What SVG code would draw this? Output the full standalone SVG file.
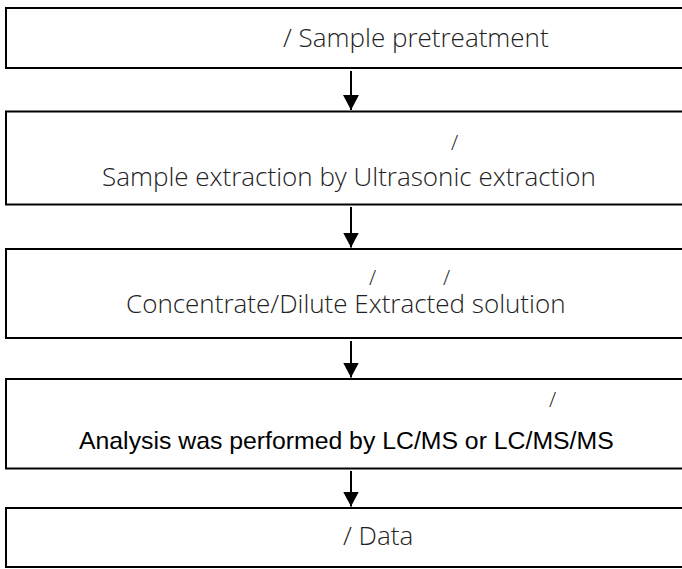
<svg xmlns="http://www.w3.org/2000/svg" width="682" height="569" viewBox="0 0 682 569">
<style>
.box{fill:#fff;stroke:#000;stroke-width:2}
.t{font-family:"Open Sans","DejaVu Sans",sans-serif;font-weight:300;font-size:26px;fill:#222}
.s{font-size:21px}
.a{font-family:"Liberation Sans",Arial,sans-serif;font-weight:400;font-size:24.8px;fill:#000}
.c{stroke:#000;stroke-width:2;fill:none}
</style>
<defs>
<marker id="ah" markerWidth="8" markerHeight="8" refX="7.5" refY="4" orient="auto" markerUnits="strokeWidth">
<path d="M0,0 L7.5,4 L0,8 z" fill="#000"/>
</marker>
</defs>
<rect width="682" height="569" fill="#fff"/>
<g id="connectors">
<line class="c" x1="351" y1="71" x2="351" y2="110" marker-end="url(#ah)"/>
<line class="c" x1="351" y1="207" x2="351" y2="247.5" marker-end="url(#ah)"/>
<line class="c" x1="351" y1="341" x2="351" y2="377.5" marker-end="url(#ah)"/>
<line class="c" x1="351" y1="471" x2="351" y2="506.5" marker-end="url(#ah)"/>
</g>
<g id="n1">
<rect class="box" x="6" y="8" width="700" height="60"/>
<text class="t" x="283" y="47">/ Sample pretreatment</text>
</g>
<g id="n2">
<rect class="box" x="6" y="111.5" width="700" height="93"/>
<text class="t s" x="451" y="150">/</text>
<text class="t" x="102" y="186">Sample extraction by Ultrasonic extraction</text>
</g>
<g id="n3">
<rect class="box" x="6" y="249" width="700" height="89"/>
<text class="t s" x="369" y="285">/</text>
<text class="t s" x="443" y="285">/</text>
<text class="t" x="126" y="313">Concentrate/Dilute Extracted solution</text>
</g>
<g id="n4">
<rect class="box" x="6" y="379" width="700" height="89.5"/>
<text class="t s" x="549" y="407">/</text>
<text class="a" x="79" y="449">Analysis was performed by LC/MS or LC/MS/MS</text>
</g>
<g id="n5">
<rect class="box" x="6" y="508" width="700" height="59"/>
<text class="t" x="343" y="545">/ Data</text>
</g>
</svg>
